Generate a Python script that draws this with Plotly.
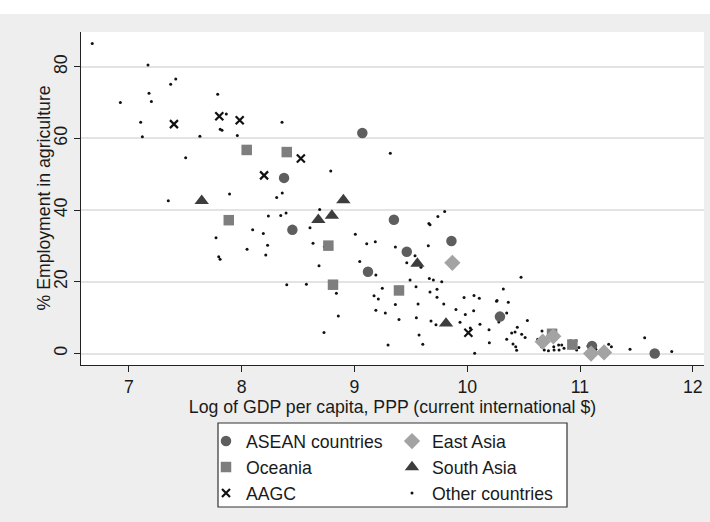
import plotly.graph_objects as go

# ---------------- data ----------------
asean_x = [8.376, 9.07, 8.45, 9.35, 9.464, 9.86, 9.12, 10.29, 11.106, 11.662]
asean_y = [49.0, 61.5, 34.5, 37.3, 28.4, 31.4, 22.8, 10.3, 2.1, 0.0]

oceania_x = [8.045, 8.40, 7.886, 8.769, 8.81, 9.395, 10.752, 10.932]
oceania_y = [56.8, 56.2, 37.2, 30.1, 19.2, 17.6, 5.5, 2.5]

aagc_x = [7.40, 7.802, 7.983, 8.199, 8.525, 10.01]
aagc_y = [64.0, 66.2, 65.1, 49.7, 54.4, 5.8]

eastasia_x = [9.868, 10.669, 10.763, 11.098, 11.213]
eastasia_y = [25.3, 3.3, 4.8, 0.0, 0.3]

southasia_x = [7.646, 8.68, 8.80, 8.902, 9.558, 9.812]
southasia_y = [42.6, 37.3, 38.5, 42.8, 25.1, 8.4]

other_x = [6.676, 7.17, 7.416, 7.371, 7.179, 7.2, 6.925, 7.788, 7.864, 7.105,
           8.358, 7.81, 7.826, 7.12, 7.63, 7.962, 7.504, 9.318, 8.79, 7.35,
           7.893, 8.311, 8.36, 8.692, 8.237, 8.347, 8.394, 9.66, 9.67, 9.80,
           9.74, 8.098, 8.192, 8.606, 8.23, 8.214, 8.633, 8.733, 9.008, 9.109,
           9.185, 9.363, 9.655, 9.464, 8.686, 9.047, 9.19, 7.773, 8.048, 7.797,
           7.809, 8.40, 8.574, 8.84, 9.247, 9.174, 9.212, 8.857, 9.19, 9.274,
           9.363, 9.395, 8.73, 9.298, 9.537, 9.59, 9.664, 9.70, 9.774, 9.493,
           9.546, 9.67, 9.732, 9.732, 9.564, 9.792, 9.972, 10.06, 10.107, 10.264,
           9.90, 9.983, 10.057, 9.936, 10.113, 10.193, 9.549, 9.679, 9.723, 10.027,
           9.573, 9.606, 10.196, 10.066, 10.477, 10.32, 10.26, 10.364, 10.35, 10.28,
           10.533, 10.444, 10.424, 10.394, 10.483, 10.513, 10.35, 10.406, 10.43, 10.438,
           10.663, 10.625, 10.645, 10.66, 10.683, 10.72, 10.767, 10.77, 10.81, 10.814,
           10.838, 10.858, 10.914, 10.965, 10.97, 10.99, 11.07, 11.12, 11.14, 11.254,
           11.278, 11.443, 11.573, 11.813]
other_y = [86.5, 80.5, 76.6, 75.1, 72.6, 70.3, 70.0, 72.3, 66.8, 64.5,
           64.5, 62.6, 62.3, 60.5, 60.6, 60.8, 54.6, 55.9, 50.9, 42.6,
           44.5, 43.5, 44.8, 40.2, 38.4, 38.5, 39.2, 36.3, 35.9, 39.6,
           38.2, 34.5, 33.5, 35.1, 30.2, 27.5, 30.8, 29.8, 33.3, 30.6,
           31.2, 29.7, 30.1, 25.3, 24.5, 25.7, 21.9, 32.3, 29.1, 27.0,
           26.3, 19.2, 19.3, 16.8, 18.2, 16.1, 15.2, 10.5, 12.1, 11.3,
           13.7, 9.5, 5.9, 2.4, 27.3, 24.1, 20.9, 20.5, 20.0, 20.5,
           18.6, 17.2, 17.9, 15.7, 13.8, 13.8, 15.6, 16.2, 15.4, 14.8,
           12.3, 10.9, 11.9, 8.7, 8.2, 6.6, 10.0, 9.1, 8.0, 7.1,
           5.2, 2.6, 3.0, 0.05, 21.3, 18.0, 14.6, 14.3, 11.3, 8.8,
           9.2, 7.3, 6.0, 5.7, 5.4, 4.5, 4.0, 2.65, 1.9, 0.9,
           6.3, 4.0, 2.65, 1.9, 1.0, 0.8, 1.9, 1.0, 2.4, 1.0,
           2.4, 1.5, 3.6, 3.6, 1.0, 1.7, 2.1, 1.2, 1.2, 2.6,
           1.9, 1.2, 4.4, 0.6]

x_ticks = [7, 8, 9, 10, 11, 12]
y_ticks = [0, 20, 40, 60, 80]

x_title = "Log of GDP per capita, PPP (current international $)"
y_title = "% Employment in agriculture"

# ---------------- figure ----------------
FONT = "Liberation Sans, Arial, sans-serif"
FS = 17.7
fig = go.Figure()

fig.add_trace(go.Scatter(x=other_x, y=other_y, mode="markers", name="Other countries",
                         marker=dict(symbol="circle", size=3, color="#111111"),
                         legend="legend2", legendrank=3))
fig.add_trace(go.Scatter(x=asean_x, y=asean_y, mode="markers", name="ASEAN countries",
                         marker=dict(symbol="circle", size=10.5, color="#5e5e5e"),
                         legend="legend", legendrank=1))
fig.add_trace(go.Scatter(x=oceania_x, y=oceania_y, mode="markers", name="Oceania",
                         marker=dict(symbol="square", size=10.5, color="#7e7e7e"),
                         legend="legend", legendrank=2))
fig.add_trace(go.Scatter(x=aagc_x, y=aagc_y, mode="markers", name="AAGC",
                         marker=dict(symbol="x-thin", size=8, color="#111111",
                                     line=dict(width=2.2, color="#111111")),
                         legend="legend", legendrank=3))
fig.add_trace(go.Scatter(x=eastasia_x, y=eastasia_y, mode="markers", name="East Asia",
                         marker=dict(symbol="diamond", size=12.5, color="#a3a3a3"),
                         legend="legend2", legendrank=1))
fig.add_trace(go.Scatter(x=southasia_x, y=southasia_y, mode="markers", name="South Asia",
                         marker=dict(symbol="triangle-up", size=12.5, color="#3d3d3d"),
                         legend="legend2", legendrank=2))

# plot area in pixels: x 81..704, y 32..365  (fig 710x522)
L, R, T, B = 81, 6, 32, 157
W, H = 710 - L - R, 522 - T - B


def px2paper_x(px):
    return (px - L) / W


def px2paper_y(py):
    return (522 - B - py) / H


fig.update_layout(
    width=710, height=522,
    margin=dict(l=L, r=R, t=T, b=B, autoexpand=False),
    paper_bgcolor="#eeeeee",
    plot_bgcolor="#ffffff",
    font=dict(family=FONT, size=FS, color="#1a1a1a"),
    xaxis=dict(range=[6.576, 12.099], tickvals=x_ticks, showgrid=False, zeroline=False,
               automargin=False,
               showline=True, linecolor="#222222", linewidth=1.3,
               ticks="outside", ticklen=6, tickwidth=1.2, tickcolor="#222222",
               tickfont=dict(size=FS),
               title=dict(text=x_title, font=dict(size=FS), standoff=4)),
    yaxis=dict(range=[-3.2, 89.7], tickvals=y_ticks, showgrid=True, gridcolor="#e3e3e3",
               gridwidth=1.5, zeroline=False, automargin=False,
               showline=True, linecolor="#222222", linewidth=1.3,
               ticks="outside", ticklen=6, tickwidth=1.2, tickcolor="#222222",
               tickangle=-90, tickfont=dict(size=FS)),
    legend=dict(x=px2paper_x(206), y=px2paper_y(423), xanchor="left", yanchor="top",
                bgcolor="rgba(0,0,0,0)", borderwidth=0, font=dict(size=FS),
                orientation="v", traceorder="normal"),
    legend2=dict(x=px2paper_x(392), y=px2paper_y(423), xanchor="left", yanchor="top",
                 bgcolor="rgba(0,0,0,0)", borderwidth=0, font=dict(size=FS),
                 orientation="v", traceorder="normal"),
    showlegend=True,
    annotations=[
        dict(text=y_title, xref="paper", yref="paper", x=px2paper_x(43), y=0.5,
             xanchor="center", yanchor="middle", textangle=-90, showarrow=False,
             font=dict(size=FS, color="#1a1a1a")),
    ],
    shapes=[
        dict(type="rect", xref="paper", yref="paper",
             x0=px2paper_x(218), x1=px2paper_x(567), y0=px2paper_y(507), y1=px2paper_y(423),
             fillcolor="#ffffff", line=dict(color="#333333", width=1.2), layer="below"),
        dict(type="rect", xref="paper", yref="paper",
             x0=px2paper_x(-5), x1=px2paper_x(715), y0=px2paper_y(14), y1=px2paper_y(-5),
             fillcolor="#ffffff", line=dict(width=0), layer="above"),
    ],
)

fig.write_html("out.html", config={"displayModeBar": False},
               post_script="document.body.style.margin='0';")
